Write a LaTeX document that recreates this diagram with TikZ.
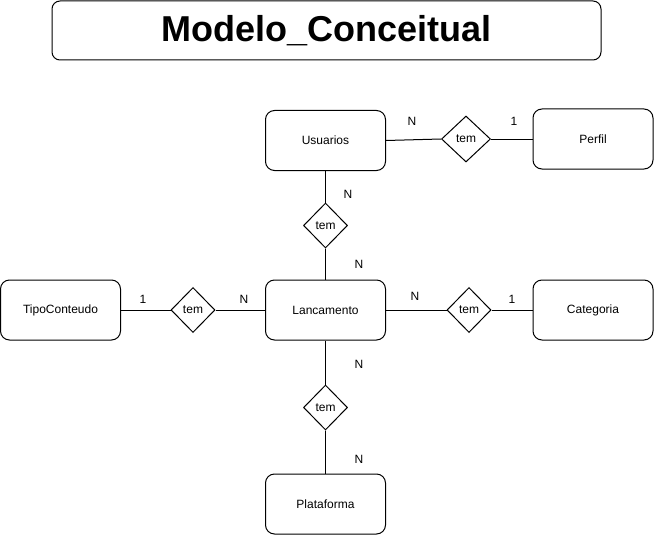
\documentclass[tikz,border=0pt]{standalone}
\usepackage{fontspec}
\setmainfont{Liberation Sans}
\usetikzlibrary{shapes.geometric}
\tikzset{
  entidade/.style={draw, rounded corners=9pt, minimum width=120pt, minimum height=60pt, inner sep=0pt, font=\fontsize{12}{14}\selectfont},
  relacao/.style={draw, diamond, minimum width=44pt, minimum height=45pt, inner sep=0pt, font=\fontsize{12}{14}\selectfont},
  card/.style={inner sep=0pt, font=\fontsize{12}{14}\selectfont}
}
\begin{document}
\begin{tikzpicture}[x=1pt, y=-1pt, line width=1pt]
				\useasboundingbox (0,0) rectangle (654,535);
				\node[draw, rounded corners=8pt, minimum width=549pt, minimum height=59pt, font=\bfseries\fontsize{36}{40}\selectfont] (titulo) at (326.5,30.5) {Modelo\_Conceitual};
				\node[entidade] (usuarios) at (325.5,140.5) {Usuarios};
				\node[entidade] (perfil) at (593,139) {Perfil};
				\node[entidade] (lancamento) at (325.5,310) {Lancamento};
				\node[entidade] (tipo) at (60.5,310) {TipoConteudo};
				\node[entidade] (categoria) at (593,310) {Categoria};
				\node[entidade] (plataforma) at (325.5,504) {Plataforma};
				\node[relacao, minimum width=49pt, minimum height=46pt] (r1) at (466,139) {tem};
				\node[relacao] (r2) at (325.5,225.5) {tem};
				\node[relacao] (r3) at (193,310) {tem};
				\node[relacao] (r4) at (469,310) {tem};
				\node[relacao] (r5) at (325.5,407.5) {tem};
				\draw (usuarios.east) -- (r1.west);
				\draw (r1.east) -- (perfil.west);
				\draw (usuarios.south) -- (r2.north);
				\draw (r2.south) -- (lancamento.north);
				\draw (tipo.east) -- (r3.west);
				\draw (r3.east) -- (lancamento.west);
				\draw (lancamento.east) -- (r4.west);
				\draw (r4.east) -- (categoria.west);
				\draw (lancamento.south) -- (r5.north);
				\draw (r5.south) -- (plataforma.north);
				\node[card] (c1) at (412,121) {N};
				\node[card] (c2) at (514,121) {1};
				\node[card] (c3) at (348,194) {N};
				\node[card] (c4) at (359,264) {N};
				\node[card] (c5) at (143,299) {1};
				\node[card] (c6) at (244,299) {N};
				\node[card] (c7) at (415,296) {N};
				\node[card] (c8) at (512,299) {1};
				\node[card] (c9) at (359,364) {N};
				\node[card] (c10) at (359,459) {N};
			\end{tikzpicture}
\end{document}
